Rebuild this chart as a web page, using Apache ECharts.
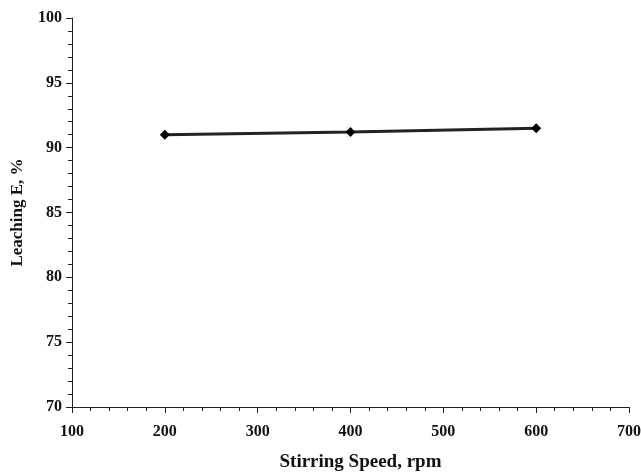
<!DOCTYPE html>
<html>
<head>
<meta charset="utf-8">
<script src="https://cdn.jsdelivr.net/npm/echarts@6/dist/echarts.min.js"></script>
<style>
  html, body { margin: 0; padding: 0; background: #fff; }
  #chart { width: 641px; height: 472px; }
</style>
</head>
<body>
<div id="chart"></div>
<script>
// stirring speed (rpm) vs leaching efficiency (%)
const speeds = [200, 400, 600];
const leaching = [91.0, 91.2, 91.5];

const fontFam = '"Liberation Serif", "Times New Roman", serif';

const chart = echarts.init(document.getElementById('chart'));
const option = {
    backgroundColor: '#fff',
    animation: false,
    grid: { left: 72, right: 12, top: 18, bottom: 65, outerBoundsMode: 'none', containLabel: false },
    xAxis: {
        type: 'value',
        min: 100, max: 700, interval: 100,
        name: 'Stirring Speed, rpm',
        nameLocation: 'middle',
        nameGap: 46,
        nameTextStyle: { fontFamily: fontFam, fontWeight: 'bold', fontSize: 19, color: '#111', padding: [0, 0, 0, 20] },
        axisLine: { show: true, lineStyle: { color: '#222', width: 1 } },
        axisTick: { show: true, length: 6, lineStyle: { color: '#222' } },
        minorTick: { show: true, splitNumber: 5, length: 4, lineStyle: { color: '#222' } },
        splitLine: { show: false },
        axisLabel: { fontFamily: fontFam, fontWeight: 'bold', fontSize: 16, color: '#111', margin: 17 }
    },
    yAxis: {
        type: 'value',
        min: 70, max: 100, interval: 5,
        name: 'Leaching E, %',
        nameLocation: 'middle',
        nameGap: 46,
        nameTextStyle: { fontFamily: fontFam, fontWeight: 'bold', fontSize: 17, color: '#111' },
        axisLine: { show: true, lineStyle: { color: '#222', width: 1 } },
        axisTick: { show: true, length: 6, lineStyle: { color: '#222' } },
        minorTick: { show: true, splitNumber: 5, length: 4, lineStyle: { color: '#222' } },
        splitLine: { show: false },
        axisLabel: { fontFamily: fontFam, fontWeight: 'bold', fontSize: 16, color: '#111', margin: 10 }
    },
    series: [{
        type: 'line',
        data: speeds.map((s, i) => [s, leaching[i]]),
        symbol: 'diamond',
        symbolSize: 10,
        lineStyle: { color: '#222', width: 3 },
        itemStyle: { color: '#000' }
    }]
};
chart.setOption(option);
</script>
</body>
</html>
